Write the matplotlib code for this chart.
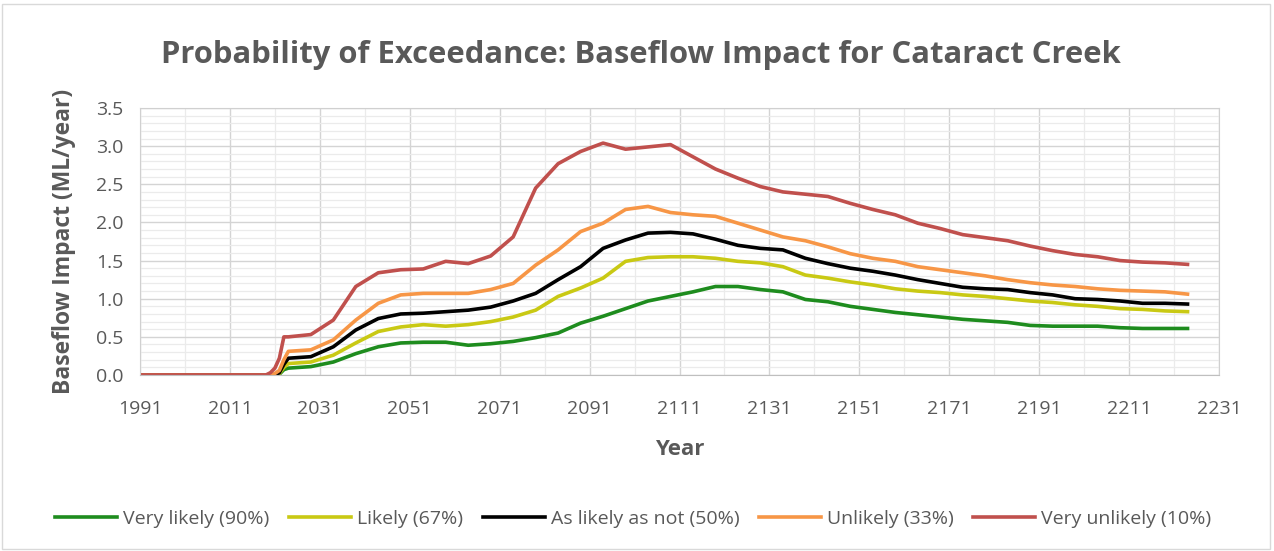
import matplotlib
matplotlib.use('Agg')
import matplotlib.pyplot as plt
from matplotlib.ticker import MultipleLocator, FixedLocator, FormatStrFormatter
from matplotlib.patches import Rectangle

# data
years = [1991, 2019, 2020, 2021, 2022, 2023, 2024, 2029, 2034, 2039, 2044, 2049,
         2054, 2059, 2064, 2069, 2074, 2079, 2084, 2089, 2094, 2099, 2104, 2109,
         2114, 2119, 2124, 2129, 2134, 2139, 2144, 2149, 2154, 2159, 2164, 2169,
         2174, 2179, 2184, 2189, 2194, 2199, 2204, 2209, 2214, 2219, 2224]

very_likely = [0, 0, 0, 0, 0.01, 0.07, 0.09, 0.11, 0.17, 0.28, 0.37, 0.42,
               0.43, 0.43, 0.39, 0.41, 0.44, 0.49, 0.55, 0.68, 0.77, 0.87, 0.97, 1.03,
               1.09, 1.16, 1.16, 1.12, 1.09, 0.99, 0.96, 0.90, 0.86, 0.82, 0.79, 0.76,
               0.73, 0.71, 0.69, 0.65, 0.64, 0.64, 0.64, 0.62, 0.61, 0.61, 0.61]
likely = [0, 0, 0, 0, 0.02, 0.10, 0.15, 0.17, 0.26, 0.42, 0.57, 0.63,
          0.66, 0.64, 0.66, 0.70, 0.76, 0.85, 1.03, 1.14, 1.27, 1.49, 1.54, 1.55,
          1.55, 1.53, 1.49, 1.47, 1.42, 1.31, 1.27, 1.22, 1.18, 1.13, 1.10, 1.08,
          1.05, 1.03, 1.00, 0.97, 0.95, 0.92, 0.90, 0.87, 0.86, 0.84, 0.83]
as_likely = [0, 0, 0, 0, 0.03, 0.14, 0.22, 0.24, 0.37, 0.59, 0.74, 0.80,
             0.81, 0.83, 0.85, 0.89, 0.97, 1.07, 1.25, 1.42, 1.66, 1.77, 1.86, 1.87,
             1.85, 1.78, 1.70, 1.66, 1.64, 1.53, 1.46, 1.40, 1.36, 1.31, 1.25, 1.20,
             1.15, 1.13, 1.12, 1.08, 1.05, 1.00, 0.99, 0.97, 0.94, 0.94, 0.93]
unlikely = [0, 0, 0, 0.02, 0.06, 0.20, 0.31, 0.33, 0.46, 0.72, 0.94, 1.05,
            1.07, 1.07, 1.07, 1.12, 1.20, 1.44, 1.64, 1.88, 1.99, 2.17, 2.21, 2.13,
            2.10, 2.08, 1.99, 1.90, 1.81, 1.76, 1.68, 1.59, 1.53, 1.49, 1.42, 1.38,
            1.34, 1.30, 1.25, 1.21, 1.18, 1.16, 1.13, 1.11, 1.10, 1.09, 1.06]
very_unlikely = [0, 0, 0.03, 0.09, 0.22, 0.50, 0.50, 0.53, 0.72, 1.16, 1.34, 1.38,
                 1.39, 1.49, 1.46, 1.56, 1.81, 2.45, 2.77, 2.93, 3.04, 2.96, 2.99, 3.02,
                 2.86, 2.70, 2.58, 2.47, 2.40, 2.37, 2.34, 2.25, 2.17, 2.10, 1.99, 1.92,
                 1.84, 1.80, 1.76, 1.69, 1.63, 1.58, 1.55, 1.50, 1.48, 1.47, 1.45]

labels = ['Very likely (90%)', 'Likely (67%)', 'As likely as not (50%)',
          'Unlikely (33%)', 'Very unlikely (10%)']
colors = ['#1e8c1e', '#c9c914', '#000000', '#f79646', '#c0504d']
x_ticks = list(range(1991, 2232, 20))

grey = '#595959'
plt.rcParams['font.family'] = ['Open Sans', 'DejaVu Sans']

fig = plt.figure(figsize=(12.74, 5.51), dpi=100)
ax = fig.add_axes([140/1274, 1 - 375/551, (1219 - 140)/1274, (375 - 108)/551])

series = [very_likely, likely, as_likely, unlikely, very_unlikely]
for vals, lab, col in zip(series, labels, colors):
  ax.plot(years, vals, color=col, lw=2.6, label=lab, solid_joinstyle='round')

ax.set_xlim(1991, 2231)
ax.set_ylim(0, 3.5)
ax.xaxis.set_major_locator(FixedLocator(x_ticks))
ax.xaxis.set_minor_locator(FixedLocator([t + 10 for t in x_ticks[:-1]]))
ax.yaxis.set_major_locator(MultipleLocator(0.5))
ax.yaxis.set_minor_locator(MultipleLocator(0.1))
ax.yaxis.set_major_formatter(FormatStrFormatter('%.1f'))
ax.grid(which='major', color='#d4d4d4', lw=1.0)
ax.grid(which='minor', color='#ebebeb', lw=0.9)
ax.set_axisbelow(True)
for s in ax.spines.values():
  s.set_color('#d0d0d0')
ax.spines['bottom'].set_color('#bfbfbf')
ax.tick_params(which='both', length=0, labelsize=14, colors=grey)
ax.tick_params(axis='x', pad=18)
ax.tick_params(axis='y', pad=12)

ax.set_xlabel('Year', fontsize=16, fontweight='bold', color=grey, labelpad=15)
ax.set_ylabel('Baseflow Impact (ML/year)', fontsize=16.5, fontweight='bold',
              color=grey, labelpad=14)
fig.text(0.503, 1 - 55/551, 'Probability of Exceedance: Baseflow Impact for Cataract Creek',
         ha='center', va='center', fontsize=22.3, fontweight='bold', color=grey)

fig.legend(loc='center', bbox_to_anchor=(0.497, 1 - 519/551), ncol=5, frameon=False,
           fontsize=14, handlelength=3.2, handletextpad=0.3, columnspacing=1.0,
           labelcolor=grey)

fig.patches.append(Rectangle((2/1274, 2/551), 1 - 6/1274, 1 - 6/551,
                             transform=fig.transFigure, fill=False,
                             edgecolor='#d9d9d9', lw=1))

fig.savefig('out.png', dpi=100)
